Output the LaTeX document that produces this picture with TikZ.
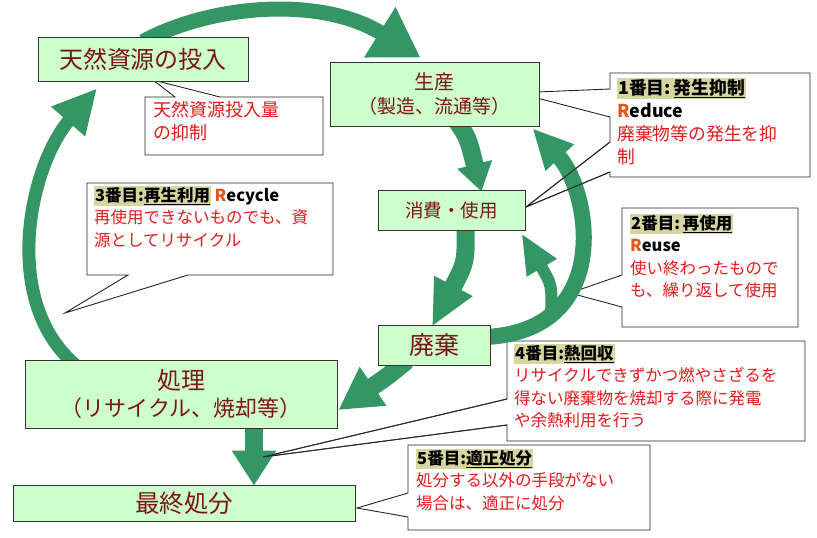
\documentclass[tikz,border=0pt]{standalone}
\usepackage{fontspec}
\setmainfont{Noto Sans CJK JP}
\usetikzlibrary{arrows.meta}
\definecolor{flowgreen}{RGB}{51,150,100}
\definecolor{boxgreen}{RGB}{204,255,204}
\definecolor{boxtext}{RGB}{125,20,20}
\definecolor{notered}{RGB}{228,25,25}
\definecolor{rorange}{RGB}{228,85,25}
\definecolor{glow}{RGB}{214,214,160}
\newcommand{\hl}[1]{{\setlength{\fboxsep}{1pt}\colorbox{glow}{#1}}}
\newcommand{\fs}[1]{\fontsize{#1}{1.2\dimexpr#1pt\relax}\selectfont}
\pgfdeclarelayer{back}
\pgfdeclarelayer{mid}
\pgfsetlayers{back,mid,main}
\tikzset{
  stage/.style={draw=black!80, line width=0.8pt, fill=boxgreen, text=boxtext, align=center, inner sep=0pt},
  note/.style={fill=white, draw=black!85, line width=0.9pt},
  pointer/.style={draw=black!85, line width=0.9pt},
  notetext/.style={anchor=north west, align=left, inner sep=0pt, text=notered, font=\fontsize{16.5}{22.5}\selectfont},
  flow/.style={draw=flowgreen, line width=#1},
}
\begin{document}
\begin{tikzpicture}[x=1pt,y=-1pt]
  \useasboundingbox (0,0) rectangle (817,538);
  % stages of the cycle
  \node[stage, minimum width=210pt, minimum height=44pt, font=\fs{24}] (input) at (143,59) {天然資源の投入};
  \node[stage, minimum width=209pt, minimum height=64pt, font=\fs{19}] (prod) at (434.5,94) {{\fs{20}生産}\\[1pt]（製造、流通等）};
  \node[stage, minimum width=147pt, minimum height=40pt, font=\fs{18.5}] (use) at (451.5,210) {消費・使用};
  \node[stage, minimum width=112pt, minimum height=40pt, font=\fs{25}] (waste) at (434,345) {廃棄};
  \node[stage, minimum width=312pt, minimum height=68pt, font=\fs{22}] (treat) at (181,394) {{\fs{24}処理}\\[1pt]（リサイクル、焼却等）};
  \node[stage, minimum width=342pt, minimum height=36pt, font=\fs{24.5}] (final) at (184,503) {最終処分};
  \coordinate (branch) at (551,316);

  % callouts
  \begin{pgfonlayer}{back}
    \fill[white] (0,0) rectangle (817,538);
    \draw[note] (145,97) -- (175,97) -- (153,80) -- (220,97) -- (323,97) -- (323,155) -- (145,155) -- cycle;
    \draw[note] (610,73) -- (810,73) -- (810,177) -- (610,177) -- (610,172) -- (526,207) -- (610,142)
      -- (610,117) -- (537,98) -- (537,92) -- (610,89) -- cycle;
    \draw[note] (622,208) -- (798,208) -- (798,327) -- (622,327) -- (622,307) -- (570,293) -- (622,275) -- cycle;
    \draw[note] (87,183) -- (333,183) -- (333,275) -- (188,275) -- (65,313) -- (128,275) -- (87,275) -- cycle;
    \draw[note] (507,341) -- (805,341) -- (805,441) -- (507,441) -- (507,425) -- (263,457) -- (507,399) -- cycle;
    \draw[note] (408,445) -- (650,445) -- (650,530) -- (408,530) -- (408,517) -- (357,508) -- (408,493) -- cycle;
  \end{pgfonlayer}

  % flows
  \begin{pgfonlayer}{mid}
    \draw[flow=15pt, -{Triangle[length=48pt,width=56pt]}] ([yshift=-5pt]input.north)
      .. controls (210,5) and (320,-5) .. ([xshift=-14pt,yshift=4pt]prod.north);
    \draw[flow=13pt, -{Triangle[length=44pt,width=42pt]}] ([xshift=-106pt,yshift=-5pt]treat.north)
      .. controls (0,300) and (30,165) .. ([xshift=-46pt,yshift=-7pt]input.south);
    \draw[flow=18pt, -{Triangle[length=28pt,width=34pt]}] ([xshift=23pt,yshift=4pt]prod.south)
      .. controls (468,138) .. ([xshift=30pt,yshift=-2pt]use.north);
    \draw[flow=18pt, -{Triangle[length=46pt,width=40pt]}] ([xshift=14pt,yshift=4pt]use.south)
      .. controls (466,262) .. ([xshift=-2pt,yshift=-2pt]waste.north);
    \draw[flow=16pt, -{Triangle[length=40pt,width=36pt]}] ([xshift=-4pt,yshift=8pt]waste.east)
      .. controls (615,330) and (590,190) .. ([xshift=98pt,yshift=-2pt]prod.south);
    \draw[flow=12pt, -{Triangle[length=40pt,width=32pt]}] (branch)
      .. controls (552,285) .. ([xshift=70pt,yshift=-3pt]use.south);
    \draw[flow=18pt, -{Triangle[length=42pt,width=44pt]}] ([xshift=-27pt,yshift=5pt]waste.south)
      .. controls (388,376) .. ([xshift=1pt,yshift=-16pt]treat.east);
    \draw[flow=18pt, -{Triangle[length=35pt,width=42pt]}] ([xshift=73pt,yshift=2pt]treat.south)
      -- ([xshift=70pt,yshift=-1pt]final.north);
    % pointer lines over the flows
    \draw[pointer] (610,142) -- (526,207) -- (610,172);
    \draw[pointer] (507,399) -- (263,457) -- (507,425);
  \end{pgfonlayer}

  % callout texts
  \node[notetext, font=\fontsize{18}{23}\selectfont] (t-input) at (153,101) {天然資源投入量\\の抑制};
  \node[notetext, font=\fontsize{17.8}{23}\selectfont] (t-reduce) at (617,78)
    {{\bfseries\color{black}\hl{1番目:\,\underline{発生抑制}}}\\
     {\bfseries\textcolor{rorange}{R}\textcolor{black}{educe}}\\
     廃棄物等の発生を抑\\制};
  \node[notetext] (t-reuse) at (630,214)
    {{\bfseries\color{black}\hl{2番目:\,\underline{再使用}}}\\
     {\bfseries\textcolor{rorange}{R}\textcolor{black}{euse}}\\
     使い終わったもので\\も、繰り返して使用};
  \node[notetext] (t-recycle) at (94,186)
    {{\bfseries\color{black}\hl{3番目:\underline{再生利用}}} {\bfseries\textcolor{rorange}{R}\textcolor{black}{ecycle}}\\
     再使用できないものでも、資\\源としてリサイクル};
  \node[notetext] (t-heat) at (514,344)
    {{\bfseries\color{black}\hl{4番目:\underline{熱回収}}}\\
     リサイクルできずかつ燃やさざるを\\得ない廃棄物を焼却する際に発電\\や余熱利用を行う};
  \node[notetext] (t-dispose) at (416,449)
    {{\bfseries\color{black}\hl{5番目:\underline{適正処分}}}\\
     処分する以外の手段がない\\場合は、適正に処分};
\end{tikzpicture}
\end{document}
